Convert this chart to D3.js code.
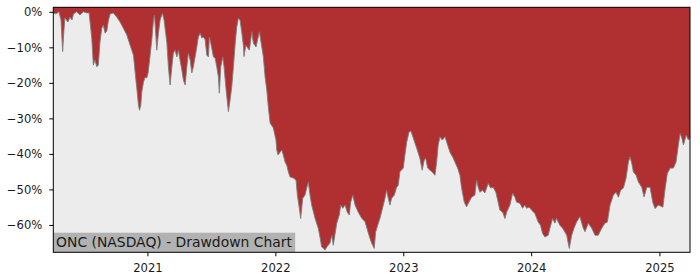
<!DOCTYPE html>
<html>
<head>
<meta charset="utf-8">
<script src="https://cdn.jsdelivr.net/npm/d3@7"></script>
<style>
  html,body{margin:0;padding:0;background:#fff;}
  svg text{font-family:"DejaVu Sans",sans-serif;}
</style>
</head>
<body>
<div id="chart"></div>
<script>
// decimal years (time axis) and drawdown in percent
const yr = [2020.266,2020.287,2020.310,2020.326,2020.339,2020.349,2020.357,2020.380,2020.396,2020.412,
  2020.423,2020.448,2020.474,2020.500,2020.527,2020.545,2020.566,2020.578,2020.591,2020.605,
  2020.617,2020.630,2020.644,2020.656,2020.670,2020.683,2020.695,2020.709,2020.734,2020.761,
  2020.787,2020.812,2020.839,2020.865,2020.891,2020.904,2020.917,2020.930,2020.938,2020.948,
  2020.956,2020.969,2020.982,2020.995,2021.005,2021.021,2021.034,2021.047,2021.055,2021.062,
  2021.073,2021.086,2021.099,2021.117,2021.130,2021.152,2021.164,2021.177,2021.191,2021.203,
  2021.216,2021.230,2021.242,2021.255,2021.269,2021.281,2021.295,2021.308,2021.320,2021.334,
  2021.347,2021.359,2021.386,2021.398,2021.412,2021.425,2021.438,2021.451,2021.464,2021.477,
  2021.484,2021.495,2021.516,2021.529,2021.542,2021.555,2021.562,2021.573,2021.589,2021.599,
  2021.615,2021.633,2021.646,2021.659,2021.672,2021.685,2021.698,2021.711,2021.724,2021.738,
  2021.750,2021.755,2021.769,2021.784,2021.797,2021.816,2021.828,2021.849,2021.875,2021.894,
  2021.906,2021.920,2021.933,2021.945,2021.959,2021.984,2022.005,2022.011,2022.021,2022.037,
  2022.050,2022.062,2022.076,2022.089,2022.102,2022.115,2022.141,2022.162,2022.172,2022.188,
  2022.198,2022.214,2022.232,2022.245,2022.258,2022.271,2022.284,2022.310,2022.336,2022.349,
  2022.362,2022.375,2022.388,2022.402,2022.427,2022.441,2022.453,2022.480,2022.500,2022.511,
  2022.527,2022.545,2022.562,2022.578,2022.589,2022.605,2022.623,2022.648,2022.675,2022.701,
  2022.727,2022.740,2022.753,2022.773,2022.784,2022.800,2022.818,2022.844,2022.857,2022.870,
  2022.883,2022.896,2022.909,2022.930,2022.948,2022.961,2022.974,2023.000,2023.013,2023.027,
  2023.045,2023.060,2023.078,2023.105,2023.130,2023.148,2023.164,2023.175,2023.191,2023.209,
  2023.227,2023.248,2023.261,2023.273,2023.287,2023.305,2023.326,2023.347,2023.365,2023.391,
  2023.404,2023.425,2023.443,2023.456,2023.477,2023.495,2023.513,2023.534,2023.560,2023.573,
  2023.586,2023.599,2023.620,2023.638,2023.664,2023.683,2023.703,2023.724,2023.742,2023.755,
  2023.777,2023.795,2023.808,2023.834,2023.855,2023.873,2023.886,2023.912,2023.933,2023.951,
  2023.964,2023.984,2024.003,2024.029,2024.055,2024.073,2024.089,2024.107,2024.133,2024.146,
  2024.167,2024.185,2024.198,2024.211,2024.224,2024.245,2024.263,2024.277,2024.297,2024.316,
  2024.334,2024.355,2024.380,2024.406,2024.420,2024.445,2024.472,2024.498,2024.523,2024.550,
  2024.575,2024.594,2024.615,2024.641,2024.662,2024.680,2024.698,2024.719,2024.740,2024.758,
  2024.771,2024.784,2024.797,2024.818,2024.836,2024.862,2024.880,2024.902,2024.927,2024.948,
  2024.966,2024.992,2025.027,2025.045,2025.062,2025.084,2025.109,2025.130,2025.148,2025.162,
  2025.175,2025.188,2025.209,2025.227,2025.239];
const dd = [-0.3,-0.6,0,-2.3,-11.2,-5.1,-1.7,-2.9,-1.5,-2.3,
  -0.6,0,-0.9,0,-0.3,-0.3,-7.4,-15.0,-13.6,-15.5,
  -15.0,-8.5,-4.6,-3.7,-6.0,-5.4,-2.6,-0.6,-0.3,-1.5,
  -2.9,-4.6,-6.5,-9.4,-12.2,-17.0,-21.5,-26.3,-27.7,-26.3,
  -22.6,-19.8,-18.4,-18.6,-17.2,-12.2,-7.9,-2.3,-0.9,-4.6,
  -10.8,-6.0,-2.3,-0.4,-2.3,-8.8,-15.5,-20.6,-15.5,-11.6,
  -10.8,-12.7,-10.8,-13.6,-16.4,-19.2,-20.6,-15.5,-11.6,-13.6,
  -17.2,-15.5,-9.9,-7.1,-6.0,-7.4,-7.1,-7.9,-12.2,-12.7,
  -7.1,-8.8,-12.7,-13.0,-15.5,-18.4,-22.9,-15.5,-12.7,-15.5,
  -22.0,-28.1,-24.8,-21.2,-15.5,-9.4,-4.3,-1.8,-2.3,-6.0,
  -9.4,-12.6,-9.4,-10.2,-10.8,-5.6,-8.8,-9.9,-5.6,-9.9,
  -12.6,-18.4,-22.0,-26.8,-31.3,-32.7,-36.1,-38.9,-40.3,-39.5,
  -38.9,-40.3,-42.3,-43.2,-45.1,-46.5,-46.8,-47.4,-51.6,-55.4,
  -58.2,-52.5,-51.6,-49.6,-47.9,-51.6,-54.4,-58.1,-61.0,-63.4,
  -66.2,-66.5,-67.1,-66.2,-65.1,-62.9,-65.7,-59.5,-57.2,-54.4,
  -55.3,-54.4,-56.4,-57.2,-53.6,-51.6,-54.4,-56.4,-58.1,-59.1,
  -62.3,-63.8,-65.1,-66.6,-62.0,-60.1,-58.1,-54.4,-52.5,-50.2,
  -52.5,-54.4,-52.5,-51.6,-49.4,-48.8,-45.0,-44.0,-40.3,-36.7,
  -33.8,-33.6,-35.5,-38.4,-41.2,-44.6,-41.7,-41.2,-44.0,-44.6,
  -45.1,-46.0,-42.3,-37.5,-35.2,-36.1,-35.2,-37.5,-39.5,-41.2,
  -42.3,-44.0,-46.0,-49.6,-53.6,-54.9,-53.6,-52.2,-51.6,-47.4,
  -49.4,-50.8,-50.2,-51.0,-48.3,-49.6,-49.4,-50.8,-53.6,-55.8,
  -56.4,-58.2,-56.4,-54.4,-51.1,-52.2,-53.6,-53.9,-55.3,-54.4,
  -55.3,-55.0,-55.8,-56.8,-59.2,-60.1,-62.4,-63.4,-62.9,-60.9,
  -58.2,-59.5,-58.1,-59.2,-60.1,-60.9,-62.0,-62.9,-66.6,-62.9,
  -60.9,-59.1,-57.7,-60.9,-61.9,-59.5,-60.9,-62.9,-62.9,-60.9,
  -59.5,-59.2,-54.4,-51.6,-50.8,-52.2,-50.2,-49.6,-46.8,-42.3,
  -40.8,-42.6,-45.1,-46.0,-47.9,-49.4,-52.1,-49.4,-49.4,-53.6,
  -55.4,-54.4,-55.0,-49.6,-45.5,-44.0,-44.0,-42.3,-37.5,-34.2,
  -35.5,-37.5,-34.7,-36.1,-35.3];
const yTicks = [0,-10,-20,-30,-40,-50,-60];
const xTickYears = [2021,2022,2023,2024,2025];
const yDomain = [-67.7, 1.27];
const title = 'ONC (NASDAQ) - Drawdown Chart';

const W=700, H=280, M={l:53.3, t:7.3, r:10, b:27.7};
const iw=W-M.l-M.r, ih=H-M.t-M.b;

function toDate(t){
  const y=Math.floor(t), a=Date.UTC(y,0,1), b=Date.UTC(y+1,0,1);
  return new Date(a+(t-y)*(b-a));
}
const data = yr.map((t,i)=>({date:toDate(t), v:dd[i]}));

const x=d3.scaleUtc().domain(d3.extent(data,d=>d.date)).range([0,iw]);
const y=d3.scaleLinear().domain(yDomain).range([ih,0]);

const svg=d3.select('#chart').append('svg').attr('width',W).attr('height',H);
const g=svg.append('g').attr('transform',`translate(${M.l},${M.t})`);

g.append('rect').attr('width',iw).attr('height',ih).attr('fill','#ececec');

g.append('path').datum(data)
  .attr('d',d3.area().x(d=>x(d.date)).y0(0).y1(d=>y(d.v)))
  .attr('fill','#b03031');
g.append('path').datum(data)
  .attr('d',d3.line().x(d=>x(d.date)).y(d=>y(d.v)))
  .attr('fill','none').attr('stroke','#7d7d7d').attr('stroke-width',0.9);

// title box, bottom-left inside the plot
const tg=g.append('g');
const tt=tg.append('text').attr('x',2.8).attr('y',ih-5.6).attr('font-size',13.9).attr('fill','#1a1a1a').text(title);
const bb=tt.node().getBBox();
tg.insert('rect','text').attr('x',0).attr('y',ih-19.6).attr('width',bb.width+5.5).attr('height',19.6).attr('fill','#b2b2b2');

const fmtP=v=>(v<0?'\u2212':'')+Math.abs(v)+'%';
const gy=g.append('g').call(d3.axisLeft(y).tickValues(yTicks).tickFormat(fmtP).tickSize(4).tickPadding(7));
const gx=g.append('g').attr('transform',`translate(0,${ih})`)
  .call(d3.axisBottom(x).tickValues(xTickYears.map(v=>new Date(Date.UTC(v,0,1)))).tickFormat(d3.utcFormat('%Y')).tickSize(4).tickPadding(7));
[gx,gy].forEach(a=>{
  a.select('.domain').remove();
  a.selectAll('line').attr('stroke','#000').attr('stroke-width',1);
  a.selectAll('text').attr('font-size',11.6).attr('fill','#1a1a1a').style('font-family','"DejaVu Sans",sans-serif');
});

g.append('rect').attr('width',iw).attr('height',ih).attr('fill','none').attr('stroke','#000').attr('stroke-width',1);
</script>
</body>
</html>
